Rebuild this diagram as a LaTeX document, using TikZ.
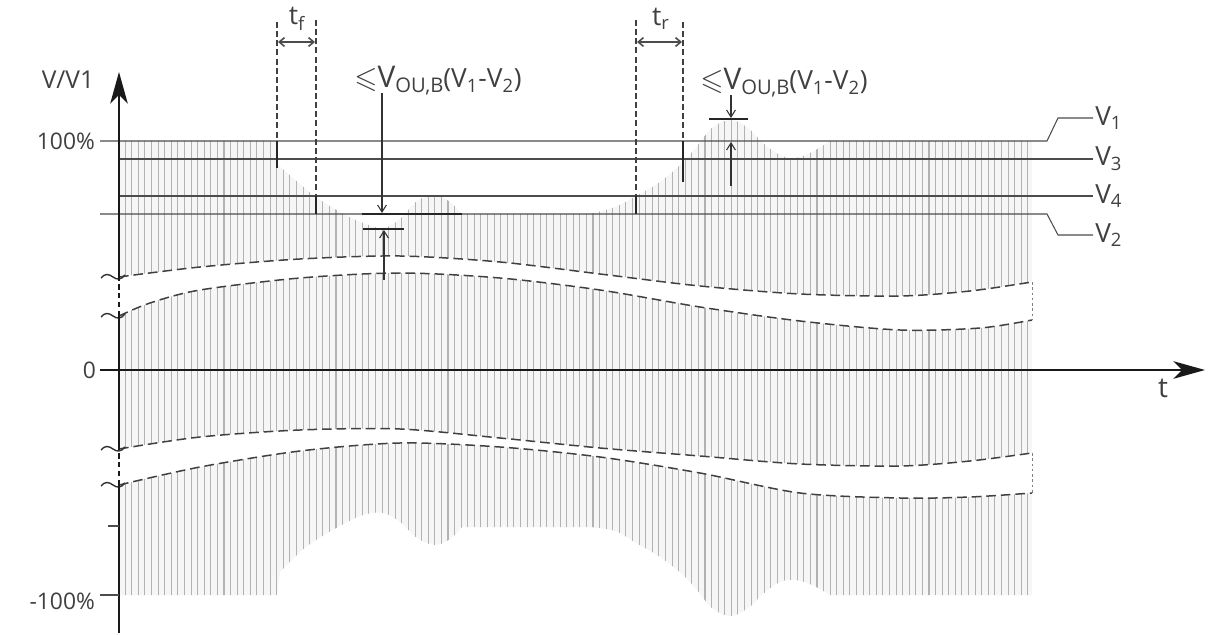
\documentclass[tikz,border=0pt]{standalone}
\usepackage{amssymb}
\usepackage{fontspec}
\setmainfont{Open Sans}
\usetikzlibrary{arrows.meta, patterns.meta}

\newcommand{\voulabel}{{\fontsize{17}{19}\selectfont$\leqslant$V}{\fontsize{11.5}{13}\selectfont\raisebox{-0.45ex}{OU,B}}{\fontsize{15}{17}\selectfont(V\textsubscript{1}-V\textsubscript{2})}}

\begin{document}
\begin{tikzpicture}[
    x=0.02cm, y=-0.02cm,
    band/.style={fill=gray!7, postaction={pattern={Lines[angle=90, distance=3.75pt, line width=0.6pt]}, pattern color=gray!60}},
    envline/.style={dash pattern=on 5.5pt off 2.8pt, line width=0.85pt, black!75},
    reflevel/.style={line width=0.6pt, black!70},
    marker/.style={line width=1.1pt, black!85},
    guide/.style={dash pattern=on 3.4pt off 1.8pt, line width=0.75pt, black!75},
    axisline/.style={line width=1pt, black!90},
    tspan/.style={{Straight Barb[length=3pt, width=5pt]}-{Straight Barb[length=3pt, width=5pt]}, line width=0.9pt, black!70},
    pointer/.style={-{Straight Barb[length=4pt, width=5pt]}, line width=0.6pt, black!80},
    limbar/.style={line width=1.1pt, black!85},
    lbl/.style={font=\fontsize{13}{15}\selectfont, text=black!75, inner sep=1pt}
]
\useasboundingbox (0,0) rectangle (1215,635);

% Upper band: envelope down to first break
\path[band] (119,141) -- (277,141) -- (277,164)
  -- plot[smooth, tension=0.6] coordinates {(277,164) (300,184) (316,197) (340,212) (363,223) (383,228) (400,219) (417,201) (435,195) (450,202) (462,214)}
  -- (590,214)
  -- plot[smooth, tension=0.6] coordinates {(590,214) (615,207) (636,196) (660,182) (682,163) (697,146) (712,128) (730,120) (747,127) (763,143) (780,155) (795,158) (812,152) (830,141)}
  -- (1032,141) -- (1032,282)
  -- plot[smooth] coordinates {(1032,282) (970,291) (900,296) (800,294) (700,286) (600,274) (500,262) (400,256) (300,259) (200,267) (119,277)}
  -- cycle;

% Middle band
\path[band] plot[smooth] coordinates {(119,316) (150,303) (200,290) (300,278) (400,273) (500,278) (600,290) (700,307) (800,321) (900,330) (980,328) (1032,320)}
  -- (1032,453)
  -- plot[smooth] coordinates {(1032,453) (970,461) (900,466) (800,464) (700,456) (600,448) (500,438) (400,429) (300,430) (200,437) (119,449)}
  -- cycle;

% Lower band: second break down to envelope
\path[band] plot[smooth] coordinates {(119,485) (200,467) (300,451) (400,443) (500,447) (600,457) (700,473) (800,493) (900,498) (970,497) (1032,493)}
  -- (1032,595) -- (830,595)
  -- plot[smooth, tension=0.6] coordinates {(830,595) (812,585) (795,580) (780,582) (763,594) (747,609) (730,616) (712,608) (697,590) (682,574) (660,557) (636,543) (615,531) (590,527)}
  -- (462,527)
  -- plot[smooth, tension=0.6] coordinates {(462,527) (450,539) (435,545) (417,538) (400,522) (383,513) (363,515) (340,526) (316,540) (300,552) (280,572)}
  -- (277,595) -- (119,595) -- cycle;

% Breaks
\draw[envline] plot[smooth] coordinates {(119,277) (200,267) (300,259) (400,256) (500,262) (600,274) (700,286) (800,294) (900,296) (970,291) (1032,282)};
\draw[envline] plot[smooth] coordinates {(119,316) (150,303) (200,290) (300,278) (400,273) (500,278) (600,290) (700,307) (800,321) (900,330) (980,328) (1032,320)};
\draw[envline] plot[smooth] coordinates {(119,449) (200,437) (300,430) (400,429) (500,438) (600,448) (700,456) (800,464) (900,466) (970,461) (1032,453)};
\draw[envline] plot[smooth] coordinates {(119,485) (200,467) (300,451) (400,443) (500,447) (600,457) (700,473) (800,493) (900,498) (970,497) (1032,493)};
\draw[black!50, dash pattern=on 1.5pt off 1.5pt, line width=0.4pt] (1032,282) -- (1032,320) (1032,453) -- (1032,493);
\foreach \yy in {277,316,449,485}
  \draw[line width=0.8pt, black!80] (101,\yy+1) .. controls (105,\yy-4) and (109,\yy-3) .. (113,\yy) .. controls (117,\yy+3) and (121,\yy+3) .. (125,\yy-2);

% Reference levels
\draw[reflevel] (100,141) -- (1047,141) -- (1058,118) -- (1093,118) node[lbl, anchor=west, font=\fontsize{15}{17}\selectfont] (v1) {V\textsubscript{1}};
\draw[reflevel] (119,159) -- (1093,159) node[lbl, anchor=west, font=\fontsize{15}{17}\selectfont] (v3) {V\textsubscript{3}};
\draw[reflevel] (119,196) -- (1093,196) node[lbl, anchor=west, font=\fontsize{15}{17}\selectfont] (v4) {V\textsubscript{4}};
\draw[reflevel] (100,214) -- (1047,214) -- (1058,235) -- (1093,235) node[lbl, anchor=west, font=\fontsize{15}{17}\selectfont] (v2) {V\textsubscript{2}};

% Axes
\draw[axisline] (119,633) -- (119,485);
\draw[axisline, dash pattern=on 3pt off 2pt] (119,485) -- (119,449);
\draw[axisline] (119,449) -- (119,316);
\draw[axisline, dash pattern=on 3pt off 2pt] (119,316) -- (119,277);
\draw[axisline, -{Stealth[length=18pt, width=10pt, inset=5pt]}] (119,277) -- (119,72);
\draw[axisline, line width=1.3pt, -{Stealth[length=18pt, width=10pt, inset=5pt]}] (100,370) -- (1205,370);
\draw[reflevel] (100,595) -- (119,595);
\draw[reflevel] (108,526) -- (119,526);

\node[lbl, font=\fontsize{14}{16}\selectfont] (vaxis) at (68,80) {V/V1};
\node[lbl, anchor=east] (p100) at (97,141) {100\%};
\node[lbl, anchor=east] (p0) at (98,370) {0};
\node[lbl, anchor=east] (m100) at (97,601) {-100\%};
\node[lbl, font=\fontsize{16}{18}\selectfont] (taxis) at (1163,388) {t};

% Event 1: dip
\draw[guide] (277,22) -- (277,141);
\draw[marker] (277,141) -- (277,168);
\draw[guide] (316,20) -- (316,196);
\draw[marker] (316,196) -- (316,214);
\coordinate (fa) at (278,42);
\coordinate (fb) at (315,42);
\draw[tspan] (fa) -- (fb);
\node[lbl, font=\fontsize{15}{17}\selectfont] (tf) at (297,19) {t\textsubscript{f}};

\node[lbl, anchor=base west, inner sep=0pt] (ou1) at (354,88) {\voulabel};
\coordinate (d1) at (382,213);
\coordinate (u1) at (384,230);
\draw[pointer] (382,93) -- (d1);
\draw[pointer] (384,280) -- (u1);
\draw[limbar] (362,214) -- (462,214);
\draw[limbar] (363,229) -- (404,229);

% Event 2: swell
\draw[guide] (636,20) -- (636,196);
\draw[marker] (636,196) -- (636,214);
\draw[guide] (683,22) -- (683,141);
\draw[marker] (683,141) -- (683,182);
\coordinate (ra) at (637,42);
\coordinate (rb) at (682,42);
\draw[tspan] (ra) -- (rb);
\node[lbl, font=\fontsize{15}{17}\selectfont] (tr) at (661,19) {t\textsubscript{r}};

\node[lbl, anchor=base west, inner sep=0pt] (ou2) at (700,90) {\voulabel};
\coordinate (d2) at (731,118);
\coordinate (u2) at (731,142);
\draw[pointer] (731,95) -- (d2);
\draw[pointer] (731,186) -- (u2);
\draw[limbar] (709,119) -- (748,119);

\end{tikzpicture}
\end{document}
